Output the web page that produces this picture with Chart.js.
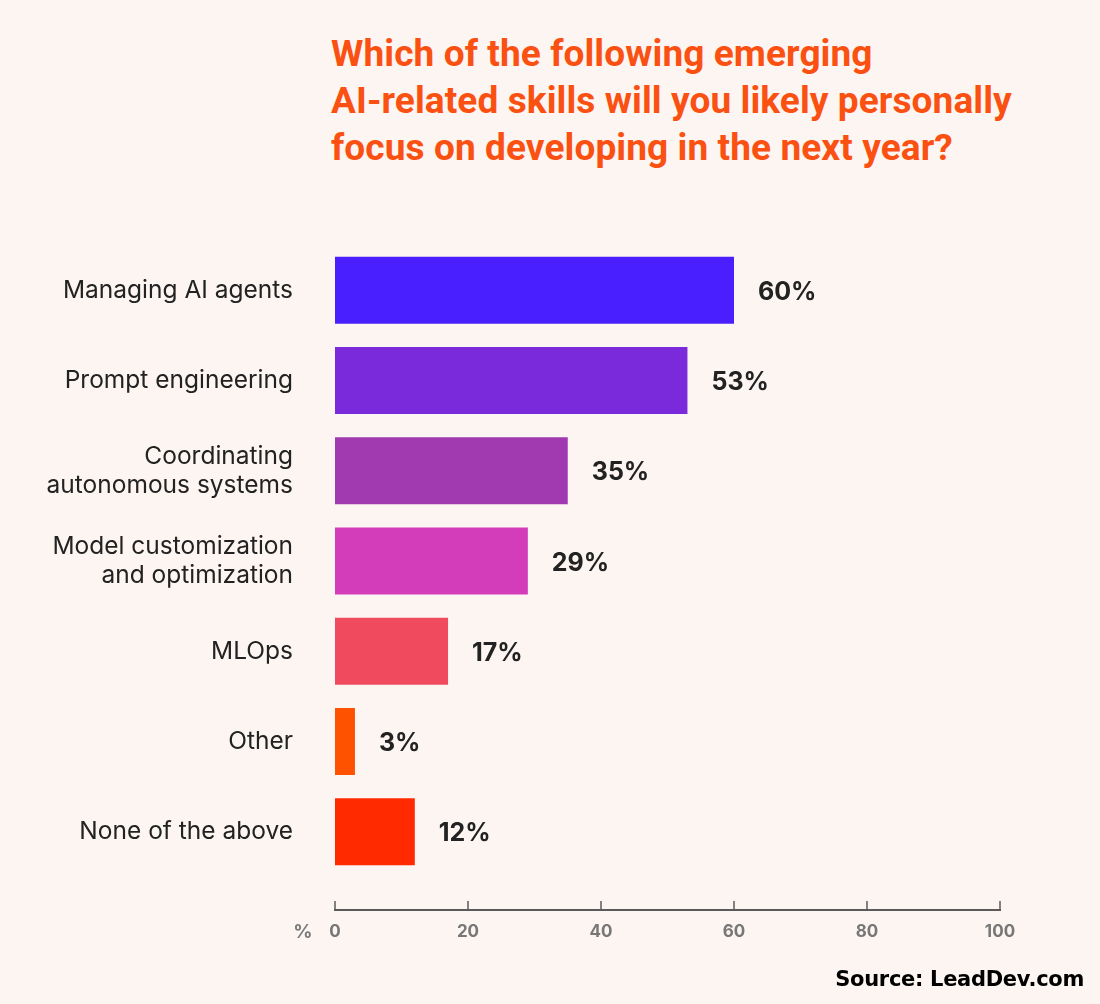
<!DOCTYPE html>
<html>
<head>
<meta charset="utf-8">
<script src="https://cdn.jsdelivr.net/npm/chart.js@4"></script>
<style>
  html, body { margin:0; padding:0; background:#FCF5F1; }
  #wrap { position:relative; width:1100px; height:1004px; overflow:hidden; }
  #title { position:absolute; left:331px; top:30px; margin:0; font-family:"Liberation Sans Narrow","Roboto",sans-serif; font-weight:700; font-size:37px; line-height:47px; color:#FA5012; letter-spacing:0.1px; }
  #source { position:absolute; right:16px; top:967px; margin:0; font-family:"DejaVu Sans",sans-serif; font-weight:700; font-size:21px; color:#000; letter-spacing:-0.3px; }
  canvas { position:absolute; left:0; top:0; }
</style>
</head>
<body>
<div id="wrap">
  <h1 id="title">Which of the following emerging<br>AI-related skills will you likely personally<br>focus on developing in the next year?</h1>
  <canvas id="c" width="1100" height="1004"></canvas>
  <p id="source">Source: LeadDev.com</p>
</div>
<script>
const categories = [
  "Managing AI agents",
  "Prompt engineering",
  ["Coordinating", "autonomous systems"],
  ["Model customization", "and optimization"],
  "MLOps",
  "Other",
  "None of the above"
];
const values = [60, 53, 35, 29, 17, 3, 12];
const barColors = ["#4A1FFF", "#7B2ADB", "#A13AB1", "#D33DBA", "#EF4A5E", "#FF5200", "#FF2A00"];
const xTicks = [0, 20, 40, 60, 80, 100];
const axisUnit = "%";

const AXIS_OFFSET = 33;

const customDraw = {
  id: 'customDraw',
  afterDatasetsDraw(chart) {
    const ctx = chart.ctx;
    const meta = chart.getDatasetMeta(0);
    ctx.save();
    ctx.font = "700 25px Inter, sans-serif";
    ctx.fillStyle = "#222222";
    ctx.textBaseline = "middle";
    ctx.textAlign = "left";
    meta.data.forEach((bar, i) => {
      ctx.fillText(values[i] + "%", bar.x + 24, bar.y + 2);
    });
    // axis line with upward ticks
    const xs = chart.scales.x;
    const ay = chart.chartArea.bottom + AXIS_OFFSET;
    ctx.strokeStyle = "#5A5A5A";
    ctx.lineWidth = 2;
    ctx.beginPath();
    ctx.moveTo(xs.getPixelForValue(xTicks[0]) - 1, ay);
    ctx.lineTo(xs.getPixelForValue(xTicks[xTicks.length - 1]) + 1, ay);
    ctx.stroke();
    ctx.lineWidth = 1.5;
    xTicks.forEach(t => {
      const px = xs.getPixelForValue(t);
      ctx.beginPath();
      ctx.moveTo(px, ay);
      ctx.lineTo(px, ay - 9);
      ctx.stroke();
    });
    ctx.font = "700 19px Inter, sans-serif";
    ctx.fillStyle = "#7A7A7A";
    ctx.textAlign = "center";
    ctx.fillText(axisUnit, 303, ay + 22);
    ctx.restore();
  }
};

new Chart(document.getElementById('c'), {
  type: 'bar',
  data: {
    labels: categories,
    datasets: [{
      data: values,
      backgroundColor: barColors,
      borderWidth: 0,
      categoryPercentage: 1,
      barPercentage: 0.742
    }]
  },
  options: {
    indexAxis: 'y',
    responsive: false,
    animation: false,
    devicePixelRatio: 1,
    layout: { padding: { top: 245, right: 100, left: 0, bottom: 0 } },
    plugins: { legend: { display: false }, tooltip: { enabled: false }, title: { display: false } },
    scales: {
      x: {
        min: 0, max: 100,
        afterFit(scale) { scale.height = 127; },
        afterBuildTicks(scale) { scale.ticks = xTicks.map(v => ({ value: v })); },
        grid: { display: false, drawTicks: false },
        border: { display: false },
        ticks: {
          padding: 45,
          color: "#777777",
          font: { family: "Inter", weight: "700", size: 17 },
          maxRotation: 0,
          autoSkip: false
        }
      },
      y: {
        afterFit(scale) { scale.width = 335; },
        grid: { display: false, drawTicks: false },
        border: { display: false },
        ticks: {
          padding: 42,
          color: "#222222",
          font: { family: "Inter", weight: "400", size: 24.5, lineHeight: 1.18 }
        }
      }
    }
  },
  plugins: [customDraw]
});
</script>
</body>
</html>
